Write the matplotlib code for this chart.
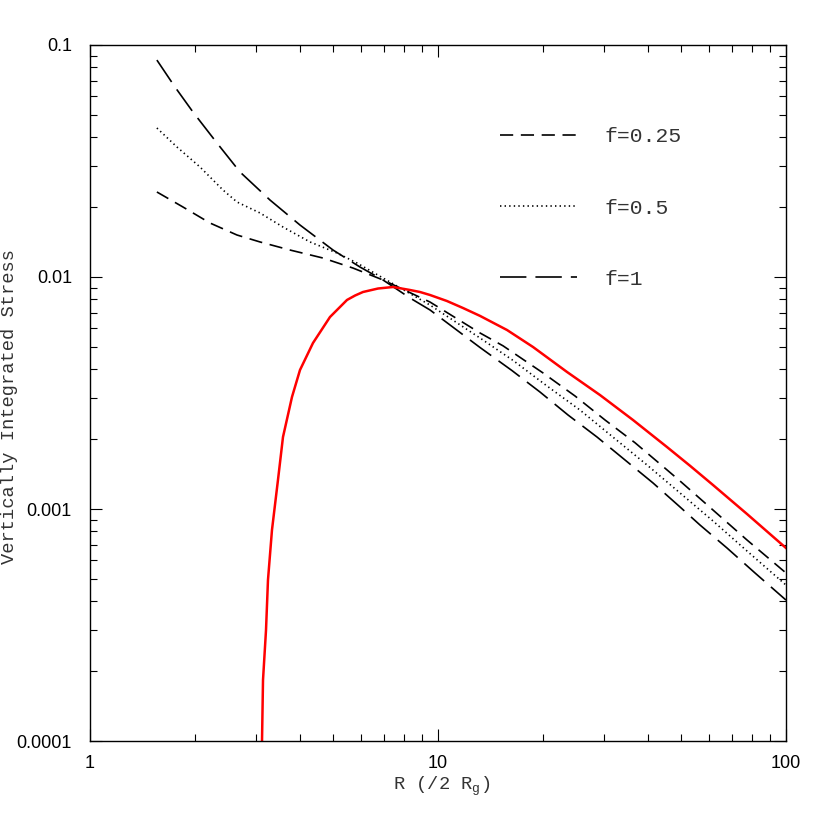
"""Vertically integrated stress against radius, for f = 0.25, 0.5 and 1."""
import matplotlib
matplotlib.use("Agg")
import matplotlib.pyplot as plt
from matplotlib.ticker import FixedLocator, FixedFormatter, LogLocator, NullFormatter


# f = 0.25 (short dashes)
r_f025 = [1.557, 1.850, 2.212, 2.645, 3.080, 3.756, 4.673, 5.697, 6.950, 9.485,
          13.20, 15.38, 20.03, 24.76, 30.19, 36.83, 45.20, 49.61, 61.69, 77.27, 100.0]
stress_f025 = [0.02325, 0.02003, 0.01709, 0.01517, 0.01416, 0.01307, 0.01207, 0.01093,
               0.00971, 0.00780, 0.00574, 0.00505, 0.00386, 0.00307, 0.00242, 0.00193,
               0.001487, 0.00132, 0.000990, 0.000735, 0.000530]

# f = 0.5 (dotted)
r_f05 = [1.557, 1.778, 2.071, 2.411, 2.645, 3.080, 3.586, 4.287, 5.127, 5.851, 6.950,
         9.485, 13.20, 16.43, 20.57, 25.59, 31.84, 39.87, 49.61, 61.69, 77.27, 100.0]
stress_f05 = [0.04387, 0.03633, 0.02979, 0.02371, 0.02105, 0.01888, 0.01642, 0.01416,
              0.01269, 0.01149, 0.00990, 0.00757, 0.00546, 0.00437, 0.00339, 0.00267,
              0.00204, 0.001548, 0.001172, 0.000888, 0.000659, 0.000470]

# f = 1 (long dashes)
r_f1 = [1.557, 1.755, 1.977, 2.317, 2.698, 3.290, 4.013, 4.993, 5.969, 6.950, 8.308,
        9.485, 13.20, 16.32, 19.64, 23.64, 28.64, 34.46, 41.48, 49.61, 56.61, 67.69,
        81.46, 100.0]
stress_f1 = [0.0861, 0.0659, 0.0514, 0.0378, 0.02836, 0.02147, 0.01675, 0.01307, 0.01104,
             0.00971, 0.00812, 0.00721, 0.00497, 0.00395, 0.003193, 0.002542, 0.002043,
             0.001627, 0.001295, 0.001020, 0.000853, 0.000679, 0.000530, 0.000405]

# red curve
r_red = [3.121, 3.142, 3.205, 3.247, 3.334, 3.469, 3.586, 3.806, 4.013, 4.373, 4.894,
         5.477, 5.776, 6.088, 6.725, 7.427, 8.308, 8.878, 9.485, 10.61, 11.80, 13.20,
         15.79, 18.75, 23.49, 29.21, 36.34, 45.50, 52.99, 61.69, 77.27, 100.0]
stress_red = [9.9e-5, 1.832e-4, 3.009e-4, 4.943e-4, 8.118e-4, 1.334e-3, 2.043e-3, 3.040e-3,
              3.973e-3, 5.194e-3, 6.723e-3, 7.962e-3, 8.32e-3, 8.617e-3, 8.92e-3, 9.055e-3,
              8.79e-3, 8.617e-3, 8.365e-3, 7.88e-3, 7.351e-3, 6.80e-3, 5.909e-3, 4.993e-3,
              3.895e-3, 3.099e-3, 2.419e-3, 1.850e-3, 1.536e-3, 1.269e-3, 9.515e-4, 6.79e-4]

x_ticks = [1, 10, 100]
x_tick_labels = ["1", "10", "100"]
y_ticks = [1e-4, 1e-3, 1e-2, 1e-1]
y_tick_labels = ["0.0001", "0.001", "0.01", "0.1"]
legend_labels = ["f=0.25", "f=0.5", "f=1"]

LABEL_FONT = "Liberation Mono"
TICK_FONT = "Liberation Sans"
TEXT_COLOR = "#333333"


def build_figure():
    """Draw the four curves on log-log axes."""
    plt.rcParams["lines.scale_dashes"] = False
    plt.rcParams["mathtext.fontset"] = "custom"
    plt.rcParams["mathtext.rm"] = LABEL_FONT

    fig = plt.figure(figsize=(8.3, 8.3), dpi=100)
    ax = fig.add_axes([0.1084, 0.1072, 0.8386, 0.8386])

    l1, = ax.plot(r_f025, stress_f025, color="black", linewidth=1.2, dashes=(9.5, 5.5))
    l2, = ax.plot(r_f05, stress_f05, color="black", linewidth=1.2, dashes=(1.0, 2.3))
    l3, = ax.plot(r_f1, stress_f1, color="black", linewidth=1.2, dashes=(19, 6.5))
    ax.plot(r_red, stress_red, color="#ff0000", linewidth=1.8)

    ax.set_xscale("log")
    ax.set_yscale("log")
    ax.set_xlim(1, 100)
    ax.set_ylim(1e-4, 0.1)

    ax.xaxis.set_major_locator(FixedLocator(x_ticks))
    ax.xaxis.set_major_formatter(FixedFormatter(x_tick_labels))
    ax.yaxis.set_major_locator(FixedLocator(y_ticks))
    ax.yaxis.set_major_formatter(FixedFormatter(y_tick_labels))
    ax.xaxis.set_minor_locator(LogLocator(base=10, subs=range(2, 10)))
    ax.yaxis.set_minor_locator(LogLocator(base=10, subs=range(2, 10)))
    ax.xaxis.set_minor_formatter(NullFormatter())
    ax.yaxis.set_minor_formatter(NullFormatter())

    ax.tick_params(which="both", direction="in", top=True, right=True, width=0.8)
    ax.tick_params(which="major", length=8.5, labelsize=13,
                   labelfontfamily=TICK_FONT)
    ax.tick_params(which="minor", length=5)
    ax.tick_params(axis="x", which="major", pad=10)
    ax.tick_params(axis="y", which="major", pad=13)
    for spine in ax.spines.values():
        spine.set_linewidth(1.0)

    fig.text(442 / 830, 1 - 786 / 830, r"R (/2 R$_{\rm g}$)", family=LABEL_FONT,
             fontsize=13.5, color=TEXT_COLOR, ha="center", va="center")
    fig.text(10 / 830, 1 - 406 / 830, "Vertically Integrated Stress", family=LABEL_FONT,
             fontsize=13.5, color=TEXT_COLOR, ha="center", va="center", rotation=90)

    leg = ax.legend([l1, l2, l3], legend_labels, loc="upper left",
                    bbox_to_anchor=(0.589, 0.882), frameon=False, borderpad=0,
                    borderaxespad=0, handlelength=3.6, handletextpad=1.3,
                    labelspacing=2.45, prop={"family": LABEL_FONT, "size": 15.4})
    for text in leg.get_texts():
        text.set_color(TEXT_COLOR)

    plt.savefig("out.png", dpi=100)


if __name__ == "__main__":
    build_figure()
